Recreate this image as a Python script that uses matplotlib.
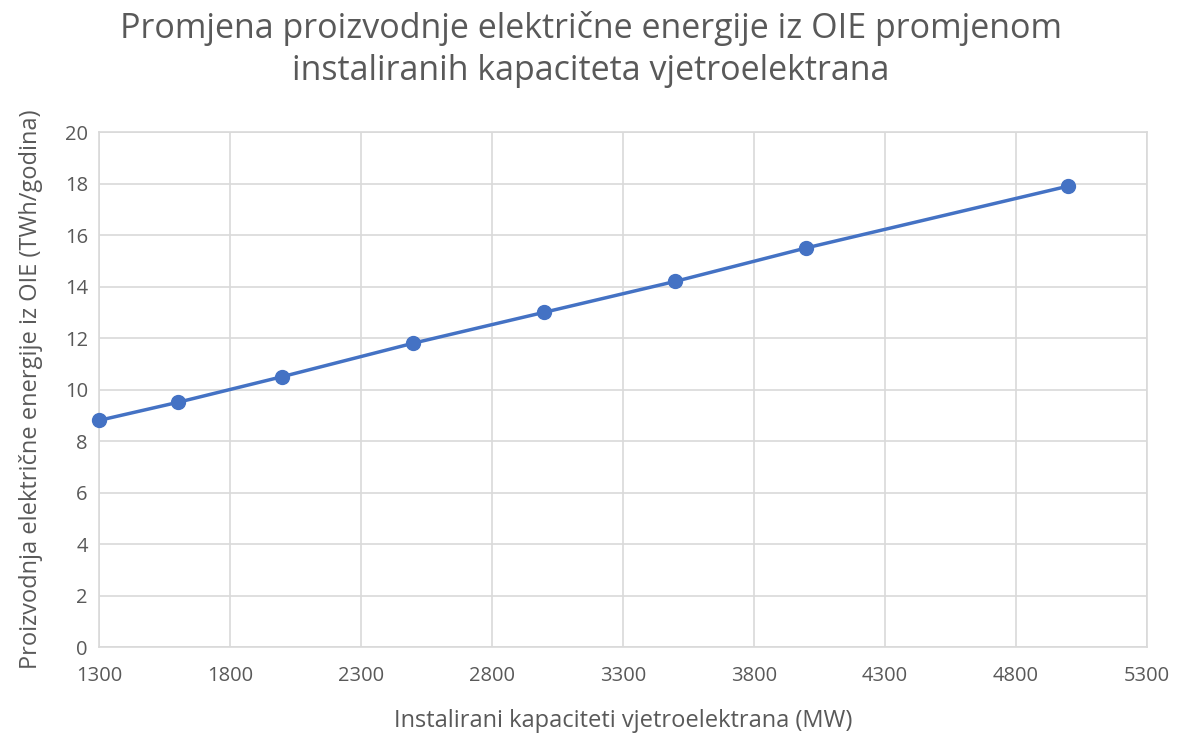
import numpy as np
import matplotlib
matplotlib.use('Agg')
import matplotlib.pyplot as plt

plt.rcParams['font.family'] = ['Open Sans', 'DejaVu Sans']

# instalirani kapaciteti (MW) i proizvodnja (TWh/godina)
kapacitet = [1300, 1600, 2000, 2500, 3000, 3500, 4000, 5000]
proizvodnja = [8.8, 9.5, 10.5, 11.8, 13.0, 14.2, 15.5, 17.9]
x_ticks = [1300, 1800, 2300, 2800, 3300, 3800, 4300, 4800, 5300]
y_ticks = [0, 2, 4, 6, 8, 10, 12, 14, 16, 18, 20]

siva = '#595959'
plava = '#4472C4'

fig = plt.figure(figsize=(11.77, 7.35), dpi=100)
ax = fig.add_axes([0.0841, 0.1197, 0.8904, 0.7007])

ax.plot(kapacitet, proizvodnja, '-o', color=plava, lw=2.5, markersize=10, zorder=3, clip_on=False)

ax.set_xlim(1300, 5300)
ax.set_ylim(0, 20)
ax.set_xticks(x_ticks)
ax.set_yticks(y_ticks)
ax.grid(color='#d9d9d9', lw=1.2)
ax.set_axisbelow(True)
for s in ax.spines.values():
    s.set_color('#d9d9d9')
    s.set_linewidth(1.2)
ax.tick_params(length=0, labelsize=14.5, labelcolor=siva, pad=8)
ax.tick_params(axis='x', pad=14)

fig.suptitle('Promjena proizvodnje električne energije iz OIE promjenom\ninstaliranih kapaciteta vjetroelektrana',
             x=0.502, y=0.985, fontsize=24.5, color=siva, linespacing=1.3)
ax.set_xlabel('Instalirani kapaciteti vjetroelektrana (MW)', fontsize=17, color=siva, labelpad=16)
ax.set_ylabel('Proizvodnja električne energije iz OIE (TWh/godina)', fontsize=17, color=siva, labelpad=16)

plt.savefig('out.png', dpi=100)
